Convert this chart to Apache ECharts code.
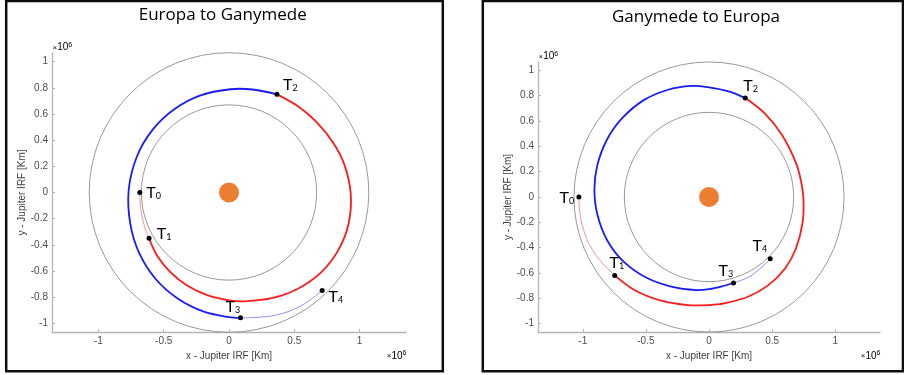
<!DOCTYPE html>
<html>
<head>
<meta charset="utf-8">
<title>Jupiter moon transfers</title>
<script src="https://cdn.jsdelivr.net/npm/echarts@6/dist/echarts.min.js"></script>
<style>
  html, body { margin: 0; padding: 0; background: #fff; }
  #chart { width: 904px; height: 375px; }
</style>
</head>
<body>
<div id="chart"></div>
<script>
// All positions in units of 10^6 km, Jupiter-centred inertial frame.
const panelTitles = ['Europa to Ganymede', 'Ganymede to Europa'];
const xAxisTitle = 'x - Jupiter IRF [Km]';
const yAxisTitle = 'y - Jupiter IRF [Km]';
const xTickValues = [-1, -0.5, 0, 0.5, 1];
const yTickValues = [-1, -0.8, -0.6, -0.4, -0.2, 0, 0.2, 0.4, 0.6, 0.8, 1];
const orbitRadii = [0.671, 1.070];           // Europa, Ganymede
const eventIndices = ['0', '1', '2', '3', '4'];

// Europa -> Ganymede
const egEvents = [[-0.683, 0.000], [-0.612, -0.350], [0.367, 0.750], [0.088, -0.958], [0.713, -0.748]];
const egLeg1 = [[-0.683, 0.000], [-0.681, -0.055], [-0.677, -0.110], [-0.667, -0.175], [-0.653, -0.236],
                [-0.634, -0.295], [-0.612, -0.350]];
const egLeg2 = [[-0.612, -0.350], [-0.549, -0.486], [-0.449, -0.609], [-0.321, -0.711], [-0.167, -0.784],
                [0.000, -0.824], [0.121, -0.832], [0.335, -0.806], [0.531, -0.733], [0.707, -0.608],
                [0.838, -0.438], [0.916, -0.237], [0.932, -0.010], [0.884, 0.211], [0.799, 0.379],
                [0.667, 0.542], [0.525, 0.661], [0.367, 0.750]];
const egLeg3 = [[0.367, 0.750], [0.182, 0.787], [0.010, 0.789], [-0.218, 0.742], [-0.419, 0.636],
                [-0.587, 0.477], [-0.705, 0.275], [-0.768, 0.019], [-0.756, -0.238], [-0.688, -0.462],
                [-0.565, -0.657], [-0.393, -0.810], [-0.192, -0.911], [0.000, -0.952], [0.088, -0.958]];
const egLeg4 = [[0.088, -0.958], [0.200, -0.955], [0.359, -0.937], [0.512, -0.886], [0.639, -0.809],
                [0.713, -0.748]];

// Ganymede -> Europa
const geEvents = [[-1.031, 0.000], [-0.747, -0.619], [0.287, 0.781], [0.194, -0.679], [0.485, -0.488]];
const geLeg1 = [[-1.031, 0.000], [-1.026, -0.100], [-1.011, -0.198], [-0.983, -0.292], [-0.945, -0.382],
                [-0.853, -0.514], [-0.747, -0.619]];
const geLeg2 = [[-0.747, -0.619], [-0.588, -0.736], [-0.378, -0.819], [-0.166, -0.854], [0.000, -0.853],
                [0.130, -0.838], [0.313, -0.786], [0.471, -0.696], [0.603, -0.564], [0.689, -0.407],
                [0.742, -0.199], [0.748, -0.013], [0.726, 0.140], [0.686, 0.277], [0.580, 0.488],
                [0.445, 0.657], [0.287, 0.781]];
const geLeg3 = [[0.287, 0.781], [0.156, 0.834], [0.000, 0.866], [-0.140, 0.877], [-0.330, 0.845],
                [-0.520, 0.763], [-0.690, 0.620], [-0.810, 0.450], [-0.885, 0.250], [-0.908, 0.060],
                [-0.884, -0.140], [-0.805, -0.345], [-0.672, -0.515], [-0.495, -0.638], [-0.290, -0.710],
                [-0.100, -0.735], [0.000, -0.728], [0.103, -0.706], [0.194, -0.679]];
const geLeg4 = [[0.194, -0.679], [0.315, -0.632], [0.420, -0.553], [0.485, -0.488]];

// ---- layout & styling ----
const AX_MIN_X = -1.355, AX_MAX_X = 1.355, AX_MIN_Y = -1.066, AX_MAX_Y = 1.066;
const grids = [
  { left: 52, top: 53, width: 354, height: 279 },
  { left: 538, top: 62, width: 342, height: 270 }
];
const titleCentres = [[222.7, 5], [696, 7]];
const yNameGaps = [20, 19];
// label anchor offsets (px) from each event marker: [left edge of "T", vertical middle]
const labelOffsets = [
  [[6.5, 0], [7.8, -4.6], [6, -9.8], [-15, -11.3], [6.3, 6]],
  [[-19.3, 1], [-5.3, -13], [-2, -12.4], [-15, -12], [-17.7, -13]]
];
const legStyles = [
  { color: '#ff9090', width: 1 },
  { color: '#ff1a1a', width: 1.8 },
  { color: '#1a1aff', width: 1.8 },
  { color: '#9090ff', width: 1 }
];
const AXIS_GREY = '#b5b5b5';
const TICK_TEXT = '#4d4d4d';
const SANS = '"Liberation Sans", Arial, sans-serif';
const LABEL_FONT = 'Lato, "Open Sans", sans-serif';
const TITLE_FONT = '"Open Sans", Lato, sans-serif';

const panels = [
  { events: egEvents, legs: [egLeg1, egLeg2, egLeg3, egLeg4] },
  { events: geEvents, legs: [geLeg1, geLeg2, geLeg3, geLeg4] }
];

function makeXAxis(i) {
  return {
    type: 'value', gridIndex: i, min: AX_MIN_X, max: AX_MAX_X,
    name: xAxisTitle, nameLocation: 'middle', nameGap: 16,
    nameTextStyle: { fontFamily: SANS, fontSize: 10, color: '#404040' },
    axisLine: { show: true, onZero: false, lineStyle: { color: AXIS_GREY, width: 1.3 } },
    axisTick: { show: true, inside: true, length: 3, customValues: xTickValues,
                lineStyle: { color: AXIS_GREY, width: 1 } },
    axisLabel: { customValues: xTickValues, margin: 4, fontFamily: SANS, fontSize: 10, color: TICK_TEXT },
    splitLine: { show: false }
  };
}
function makeYAxis(i) {
  return {
    type: 'value', gridIndex: i, min: AX_MIN_Y, max: AX_MAX_Y,
    name: yAxisTitle, nameLocation: 'middle', nameGap: yNameGaps[i],
    nameTextStyle: { fontFamily: SANS, fontSize: 10, color: '#404040' },
    axisLine: { show: true, onZero: false, lineStyle: { color: AXIS_GREY, width: 1.3 } },
    axisTick: { show: true, inside: true, length: 3, customValues: yTickValues,
                lineStyle: { color: AXIS_GREY, width: 1 } },
    axisLabel: { customValues: yTickValues, margin: 4, fontFamily: SANS, fontSize: 10, color: TICK_TEXT },
    splitLine: { show: false }
  };
}

// Draws one trajectory leg as a single smooth polyline through its points
function legSeries(i, leg, style) {
  return {
    type: 'custom', xAxisIndex: i, yAxisIndex: i, silent: true, z: 2, clip: false,
    data: leg, encode: { x: 0, y: 1 },
    renderItem: function (params, api) {
      if (params.dataIndex !== 0) return null;
      const pts = leg.map(p => api.coord(p));
      return {
        type: 'polyline',
        shape: { points: pts, smooth: 0.35 },
        style: { fill: 'none', stroke: style.color, lineWidth: style.width, lineJoin: 'round', lineCap: 'round' }
      };
    }
  };
}

function panelSeries(i) {
  const p = panels[i];
  const list = [];
  // moon orbits as circles scaled through the axes
  list.push({
    type: 'custom', xAxisIndex: i, yAxisIndex: i, silent: true, z: 1, clip: false,
    data: orbitRadii.map(r => [r, 0]),
    encode: { x: 0, y: 1 },
    renderItem: function (params, api) {
      const r = api.value(0);
      const c = api.coord([0, 0]);
      const e = api.coord([r, 0]);
      return {
        type: 'circle',
        shape: { cx: c[0], cy: c[1], r: e[0] - c[0] },
        style: { fill: 'none', stroke: '#999999', lineWidth: 1 }
      };
    }
  });
  p.legs.forEach((leg, k) => list.push(legSeries(i, leg, legStyles[k])));
  // Jupiter
  list.push({
    type: 'scatter', xAxisIndex: i, yAxisIndex: i, data: [[0, 0]], symbolSize: 20,
    itemStyle: { color: '#ED7D31', opacity: 1 }, silent: true, z: 3
  });
  // trajectory events T0..T4
  list.push({
    type: 'scatter', xAxisIndex: i, yAxisIndex: i, symbolSize: 5, silent: true, z: 4,
    itemStyle: { color: '#000', opacity: 1 },
    data: p.events.map((pt, k) => ({
      value: pt,
      label: {
        position: [labelOffsets[i][k][0] + 2.5, labelOffsets[i][k][1] + 2.5],
        formatter: '{t|T}{s|' + eventIndices[k] + '}'
      }
    })),
    label: {
      show: true, align: 'left', verticalAlign: 'middle', color: '#000', textBorderWidth: 0,
      rich: {
        t: { fontFamily: LABEL_FONT, fontSize: 16, lineHeight: 16, color: '#000' },
        s: { fontFamily: LABEL_FONT, fontSize: 9, lineHeight: 9, verticalAlign: 'bottom', color: '#000' }
      }
    }
  });
  return list;
}

const expRich = {
  a: { fontFamily: SANS, fontSize: 8, color: '#5a5a5a', lineHeight: 12 },
  b: { fontFamily: SANS, fontSize: 10, color: '#5a5a5a', lineHeight: 12 },
  c: { fontFamily: SANS, fontSize: 7, color: '#5a5a5a', lineHeight: 7, verticalAlign: 'top' }
};
const graphics = [
  { type: 'rect', shape: { x: 6.2, y: 1, width: 436.6, height: 370.3 },
    style: { fill: 'none', stroke: '#0d0d0d', lineWidth: 2.5 }, silent: true },
  { type: 'rect', shape: { x: 482.8, y: 1, width: 420.2, height: 370.3 },
    style: { fill: 'none', stroke: '#0d0d0d', lineWidth: 2.5 }, silent: true }
];
grids.forEach(g => {
  graphics.push({ type: 'text', x: g.left + 0.5, y: g.top - 5.5, silent: true,
    style: { text: '{a|×}{b|10}{c|6}', rich: expRich, align: 'left', verticalAlign: 'middle' } });
  graphics.push({ type: 'text', x: g.left + g.width + 0.5, y: g.top + g.height + 24, silent: true,
    style: { text: '{a|×}{b|10}{c|6}', rich: expRich, align: 'right', verticalAlign: 'middle' } });
});

const chart = echarts.init(document.getElementById('chart'), null, { renderer: 'canvas' });
chart.setOption({
  backgroundColor: '#ffffff',
  animation: false,
  title: panelTitles.map((t, i) => ({
    text: t, left: titleCentres[i][0], top: titleCentres[i][1], textAlign: 'center', padding: 0,
    textStyle: { fontFamily: TITLE_FONT, fontSize: 17, fontWeight: 'normal', color: '#000', lineHeight: 20 }
  })),
  grid: grids.map(g => Object.assign({ containLabel: false }, g)),
  xAxis: [makeXAxis(0), makeXAxis(1)],
  yAxis: [makeYAxis(0), makeYAxis(1)],
  graphic: graphics,
  series: panelSeries(0).concat(panelSeries(1))
});
</script>
</body>
</html>
